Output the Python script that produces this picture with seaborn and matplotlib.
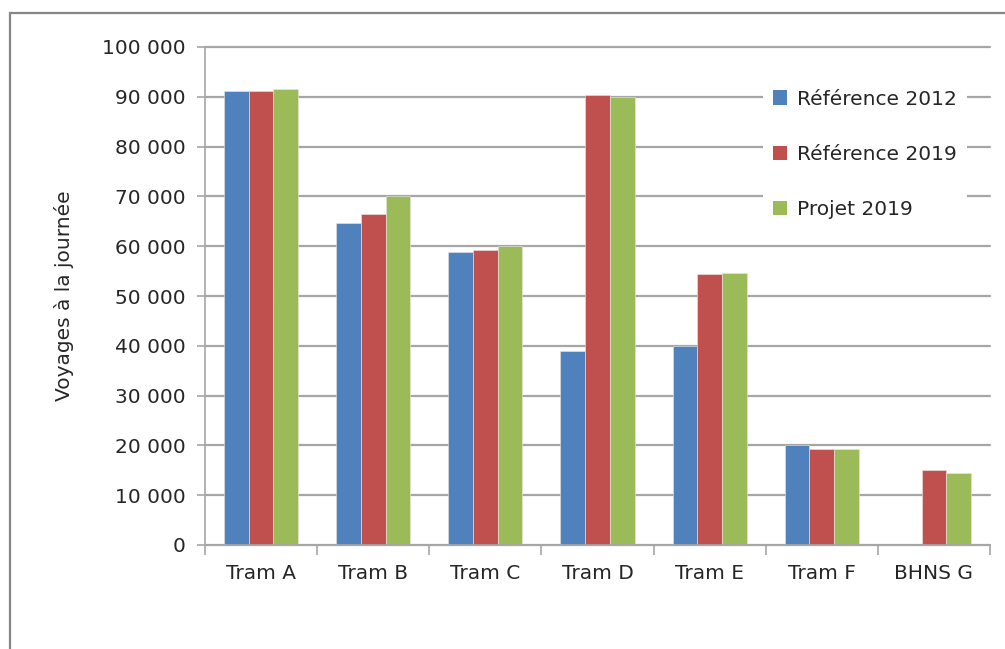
import matplotlib
matplotlib.use("Agg")
import matplotlib.pyplot as plt
import matplotlib.patches as mpatches
import matplotlib.ticker as mticker
import numpy as np
import pandas as pd
import seaborn as sns

# donnees
lignes = ["Tram A", "Tram B", "Tram C", "Tram D", "Tram E", "Tram F", "BHNS G"]
series = ["Référence 2012", "Référence 2019", "Projet 2019"]
ref_2012 = [91200, 64700, 58900, 39000, 40000, 20000, np.nan]
ref_2019 = [91200, 66500, 59300, 90300, 54500, 19300, 15000]
projet_2019 = [91500, 70000, 60000, 89900, 54700, 19300, 14500]
couleurs = ["#4F81BD", "#C0504D", "#9BBB59"]

df = pd.DataFrame({
    "Ligne": lignes * 3,
    "Serie": [series[0]] * 7 + [series[1]] * 7 + [series[2]] * 7,
    "Voyages": ref_2012 + ref_2019 + projet_2019,
})

sns.set_theme(style="white")
plt.rcParams["font.family"] = ["DejaVu Sans"]
plt.rcParams["font.size"] = 14.5
texte = "#262626"
gris = "#A6A6A6"

fig = plt.figure(figsize=(10.05, 6.49), dpi=100)
ax = fig.add_axes([205 / 1005, 104 / 649, 785 / 1005, 498 / 649])

sns.barplot(data=df, x="Ligne", y="Voyages", hue="Serie", order=lignes,
            hue_order=series, palette=couleurs, width=0.66, saturation=1,
            errorbar=None, ax=ax, linewidth=0.4, edgecolor="#E8E8E8", zorder=3)

ax.set_ylim(0, 100000)
ax.set_xlim(-0.5, 6.5)
ax.yaxis.set_major_locator(mticker.MultipleLocator(10000))
ax.yaxis.set_major_formatter(mticker.FuncFormatter(
    lambda v, p: f"{int(v):,}".replace(",", " ")))
ax.grid(axis="y", color=gris, linewidth=1.6, zorder=0, clip_on=False)
ax.set_axisbelow(True)

for s in ["top", "right"]:
    ax.spines[s].set_visible(False)
for s in ["left", "bottom"]:
    ax.spines[s].set_color(gris)
    ax.spines[s].set_linewidth(1.2)
    ax.spines[s].set_zorder(4)

ax.xaxis.set_minor_locator(mticker.FixedLocator(np.arange(-0.5, 7, 1)))
ax.tick_params(axis="x", which="major", length=0, pad=14, labelsize=14.5, labelcolor=texte)
ax.tick_params(axis="x", which="minor", length=7, width=1.2, color=gris, direction="out", bottom=True)
ax.tick_params(axis="y", length=6, width=1.2, color=gris, direction="out", left=True,
               pad=8, labelsize=14.5, labelcolor=texte)

ax.set_xlabel("")
ax.set_ylabel("Voyages à la journée", fontsize=14.5, color=texte, labelpad=20)

handles = [mpatches.Rectangle((0, 0), 1, 1, facecolor=c, edgecolor="none") for c in couleurs]
leg = ax.legend(handles, series, loc="upper left", bbox_to_anchor=(0.698, 0.955),
                frameon=True, facecolor="white", edgecolor="none", framealpha=1,
                handlelength=0.7, handleheight=0.7, handletextpad=0.5,
                labelspacing=1.8, borderpad=0.5, fontsize=14.5)
for t in leg.get_texts():
    t.set_color(texte)
leg.set_zorder(5)

# cadre du graphique
fig.patches.append(mpatches.Rectangle((10 / 1005, -0.1), 1.2, (649 - 13) / 649 + 0.1,
                                      transform=fig.transFigure, fill=False,
                                      edgecolor="#868686", linewidth=1.6))

fig.savefig("out.png", dpi=100)
